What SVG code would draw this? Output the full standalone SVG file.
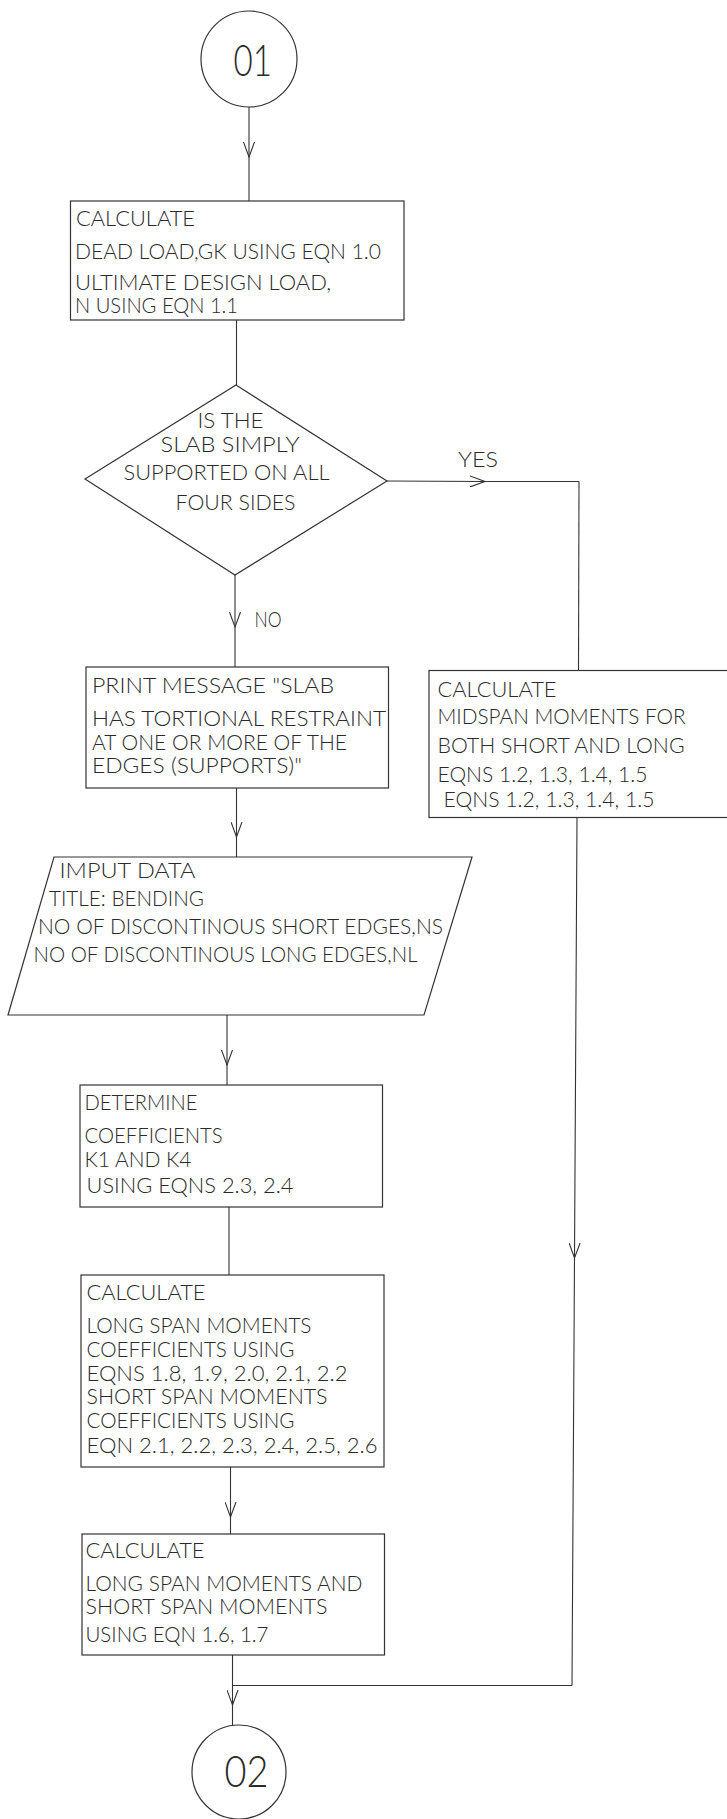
<svg xmlns="http://www.w3.org/2000/svg" width="727" height="1819" viewBox="0 0 727 1819">
<style>
.bg{fill:#ffffff}
.shape{fill:none;stroke:#333;stroke-width:1.2}
.conn{fill:none;stroke:#333;stroke-width:1.1}
.arr{marker-mid:url(#v)}
text{font-family:Lato,"Liberation Sans",Arial,sans-serif;font-weight:300;font-size:21px;fill:#2a2a2a}
.big{font-size:43px}
</style>
<defs>
<marker id="v" markerUnits="userSpaceOnUse" viewBox="0 0 16 12" refX="15" refY="6" markerWidth="16" markerHeight="12" orient="auto">
<path d="M0,0.5 L15,6 L0,11.5" fill="none" stroke="#333" stroke-width="1.1"/>
</marker>
</defs>
<rect class="bg" x="0" y="0" width="727" height="1819"/>

<g id="connectors">
<path class="conn arr" d="M249,107 L249,157 L249,201"/>
<path class="conn" d="M236.5,320 L236.5,385"/>
<path class="conn arr" d="M387,481 L485,481.5 L579,481.5"/>
<path class="conn" d="M579,481.5 L578.5,670"/>
<path class="conn arr" d="M235,575 L235,627 L235,667"/>
<path class="conn arr" d="M236.5,788 L236.5,837 L236.5,857"/>
<path class="conn arr" d="M227,1015 L227,1065 L227,1085"/>
<path class="conn" d="M229,1207 L229,1275"/>
<path class="conn arr" d="M230.5,1467 L230.5,1517 L230.5,1534"/>
<path class="conn arr" d="M577,817 L574.5,1258 L572,1685.5"/>
<path class="conn" d="M572,1685.5 L232.5,1685.5"/>
<path class="conn arr" d="M232.5,1655 L232.5,1705 L232.5,1725"/>
<text x="458" y="467" textLength="40" lengthAdjust="spacingAndGlyphs">YES</text>
<text x="254.5" y="627" textLength="27" lengthAdjust="spacingAndGlyphs">NO</text>
</g>

<g id="start">
<circle class="shape" cx="249" cy="59" r="48"/>
<text class="big" x="233.5" y="76" textLength="38.5" lengthAdjust="spacingAndGlyphs">01</text>
</g>

<g id="calc-load">
<rect class="shape" x="70.5" y="201" width="333.5" height="119"/>
<text x="76" y="226" textLength="119" lengthAdjust="spacingAndGlyphs">CALCULATE</text>
<text x="75" y="259" textLength="306" lengthAdjust="spacingAndGlyphs">DEAD LOAD,GK USING EQN 1.0</text>
<text x="75" y="290" textLength="256" lengthAdjust="spacingAndGlyphs">ULTIMATE DESIGN LOAD,</text>
<text x="75" y="313" textLength="163" lengthAdjust="spacingAndGlyphs">N USING EQN 1.1</text>
</g>

<g id="decision">
<path class="shape" d="M236,385 L387,481 L235,575 L85,479 Z"/>
<text x="197.5" y="428" textLength="66" lengthAdjust="spacingAndGlyphs">IS THE</text>
<text x="160.5" y="452" textLength="139" lengthAdjust="spacingAndGlyphs">SLAB SIMPLY</text>
<text x="123.5" y="480" textLength="206" lengthAdjust="spacingAndGlyphs">SUPPORTED ON ALL</text>
<text x="175.5" y="510" textLength="120" lengthAdjust="spacingAndGlyphs">FOUR SIDES</text>
</g>

<g id="print-message">
<rect class="shape" x="86" y="667" width="302.5" height="121"/>
<text x="92" y="693" textLength="242" lengthAdjust="spacingAndGlyphs">PRINT MESSAGE "SLAB</text>
<text x="92" y="726" textLength="294" lengthAdjust="spacingAndGlyphs">HAS TORTIONAL RESTRAINT</text>
<text x="92" y="750" textLength="255" lengthAdjust="spacingAndGlyphs">AT ONE OR MORE OF THE</text>
<text x="92" y="773" textLength="210" lengthAdjust="spacingAndGlyphs">EDGES (SUPPORTS)"</text>
</g>

<g id="midspan">
<rect class="shape" x="429" y="670.5" width="300" height="147"/>
<text x="437.5" y="697" textLength="119" lengthAdjust="spacingAndGlyphs">CALCULATE</text>
<text x="437.5" y="724" textLength="248" lengthAdjust="spacingAndGlyphs">MIDSPAN MOMENTS FOR</text>
<text x="437.5" y="753" textLength="247" lengthAdjust="spacingAndGlyphs">BOTH SHORT AND LONG</text>
<text x="437.5" y="782" textLength="210" lengthAdjust="spacingAndGlyphs">EQNS 1.2, 1.3, 1.4, 1.5</text>
<text x="443.5" y="807" textLength="211" lengthAdjust="spacingAndGlyphs">EQNS 1.2, 1.3, 1.4, 1.5</text>
</g>

<g id="input-data">
<path class="shape" d="M54,857 L472,857 L424,1015 L8,1015 Z"/>
<text x="59.5" y="878" textLength="136" lengthAdjust="spacingAndGlyphs">IMPUT  DATA</text>
<text x="49" y="906" textLength="155" lengthAdjust="spacingAndGlyphs">TITLE: BENDING</text>
<text x="38" y="934" textLength="405" lengthAdjust="spacingAndGlyphs">NO OF DISCONTINOUS SHORT EDGES,NS</text>
<text x="33.5" y="962" textLength="384" lengthAdjust="spacingAndGlyphs">NO OF DISCONTINOUS LONG EDGES,NL</text>
</g>

<g id="determine">
<rect class="shape" x="80" y="1085" width="302.5" height="122"/>
<text x="84.5" y="1110" textLength="113" lengthAdjust="spacingAndGlyphs">DETERMINE</text>
<text x="84.5" y="1143" textLength="138" lengthAdjust="spacingAndGlyphs">COEFFICIENTS</text>
<text x="84.5" y="1167" textLength="107" lengthAdjust="spacingAndGlyphs">K1 AND K4</text>
<text x="86.5" y="1193" textLength="207" lengthAdjust="spacingAndGlyphs">USING EQNS 2.3, 2.4</text>
</g>

<g id="calc-coefficients">
<rect class="shape" x="81" y="1275" width="303" height="192"/>
<text x="86.5" y="1300" textLength="119" lengthAdjust="spacingAndGlyphs">CALCULATE</text>
<text x="86.5" y="1333" textLength="225" lengthAdjust="spacingAndGlyphs">LONG SPAN MOMENTS</text>
<text x="86.5" y="1357" textLength="208" lengthAdjust="spacingAndGlyphs">COEFFICIENTS USING</text>
<text x="86.5" y="1381" textLength="261" lengthAdjust="spacingAndGlyphs">EQNS  1.8, 1.9, 2.0, 2.1, 2.2</text>
<text x="86.5" y="1404" textLength="241" lengthAdjust="spacingAndGlyphs">SHORT SPAN MOMENTS</text>
<text x="86.5" y="1428" textLength="208" lengthAdjust="spacingAndGlyphs">COEFFICIENTS USING</text>
<text x="86.5" y="1453" textLength="291" lengthAdjust="spacingAndGlyphs">EQN 2.1, 2.2, 2.3, 2.4, 2.5, 2.6</text>
</g>

<g id="calc-moments">
<rect class="shape" x="82" y="1534" width="302.5" height="121"/>
<text x="85.5" y="1558" textLength="119" lengthAdjust="spacingAndGlyphs">CALCULATE</text>
<text x="85.5" y="1591" textLength="277" lengthAdjust="spacingAndGlyphs">LONG SPAN MOMENTS AND</text>
<text x="85.5" y="1614" textLength="242" lengthAdjust="spacingAndGlyphs">SHORT SPAN MOMENTS</text>
<text x="85.5" y="1642" textLength="183" lengthAdjust="spacingAndGlyphs">USING EQN 1.6, 1.7</text>
</g>

<g id="end">
<circle class="shape" cx="239" cy="1772" r="47"/>
<text class="big" x="224.5" y="1787" textLength="44" lengthAdjust="spacingAndGlyphs">02</text>
</g>
</svg>
